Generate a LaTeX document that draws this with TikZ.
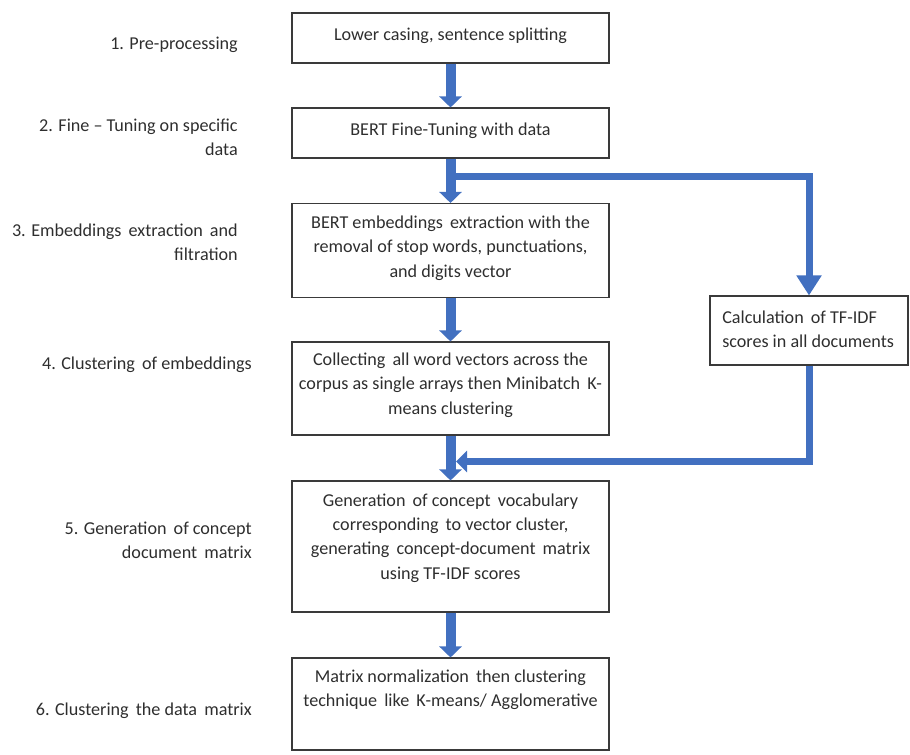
\documentclass[tikz,border=0pt]{standalone}
\usepackage{fontspec}
\setmainfont{Carlito}
\usetikzlibrary{arrows.meta}
\definecolor{arrowblue}{HTML}{4270C0}
\definecolor{boxline}{HTML}{3A3A3A}
\definecolor{txtcol}{HTML}{2E2E2E}
\begin{document}
\begin{tikzpicture}[x=0.75pt,y=-0.75pt,
  box/.style={draw=boxline, line width=0.8pt, rectangle, inner sep=0pt, minimum width=237.75pt},
  boxtext/.style={text=txtcol, align=center, inner sep=0pt, font=\fontsize{13.6}{18.2}\selectfont},
  steplabel/.style={text=txtcol, align=right, inner sep=0pt, anchor=east, font=\fontsize{13.6}{18.2}\selectfont},
  mainarrow/.style={draw=arrowblue, line width=7.5pt, -{Triangle[width=16.5pt,length=8.25pt]}},
  sidearrow/.style={draw=arrowblue, line width=5.25pt, line join=miter},
]
\useasboundingbox (0,0) rectangle (910,755);

% boxes
\node[box, minimum height=37.5pt] (b1) at (450.5,38) {};
\node[box, minimum height=37.5pt] (b2) at (450.5,133) {};
\node[box, minimum height=70.5pt] (b3) at (450.5,250.5) {};
\node[box, minimum height=69.75pt] (b4) at (450.5,388.5) {};
\node[box, minimum height=98.25pt] (b5) at (450.5,546.5) {};
\node[box, minimum height=69pt] (b6) at (450.5,704) {};
\node[box, minimum width=148.5pt, minimum height=51.75pt] (r) at (809,330.5) {};

% box texts
\node[boxtext] (t1) at (450.5,36) {Lower casing, sentence splitting};
\node[boxtext] (t2) at (450.5,131) {BERT Fine-Tuning with data};
\node[boxtext] (t3) at (450.5,248) {BERT embeddings\, extraction with the\\removal of stop words, punctuations,\\and digits vector};
\node[boxtext] (t4) at (450.5,385) {Collecting\, all word vectors across the\\corpus as single arrays then Minibatch\, K-\\means clustering};
\node[boxtext] (t5) at (450.5,538) {Generation\, of concept\, vocabulary\\corresponding\, to vector cluster,\\generating\, concept-document\, matrix\\using TF-IDF scores};
\node[boxtext] (t6) at (450.5,690) {Matrix normalization\, then clustering\\technique\, like\, K-means/ Agglomerative};
\node[boxtext, align=left, anchor=west] (tr) at (722,329.5) {Calculation\, of TF-IDF\\scores in all documents};

% step labels
\node[steplabel] (l1) at (238,45) {1. Pre-processing};
\node[steplabel] (l2) at (238,137) {2. Fine -- Tuning on specific\\data};
\node[steplabel] (l3) at (238,242) {3. Embeddings\, extraction\, and\\filtration};
\node[steplabel] (l4) at (252,365) {4. Clustering\, of embeddings};
\node[steplabel] (l5) at (252,540.5) {5. Generation\, of concept\\document\, matrix};
\node[steplabel] (l6) at (252,711) {6. Clustering\, the data\, matrix};

% connectors
\coordinate (br) at (451,176.5);
\coordinate (mj) at (456,461.5);
\draw[sidearrow, -{Triangle[width=18pt,length=15pt]}] (br) -| (r.north);
\draw[sidearrow, -{Triangle[width=15.75pt,length=8.25pt]}] (r.south) |- (mj);
\draw[mainarrow] (b1.south) -- (b2.north);
\draw[mainarrow] (b2.south) -- (b3.north);
\draw[mainarrow] (b3.south) -- (b4.north);
\draw[mainarrow] (b4.south) -- (b5.north);
\draw[mainarrow] (b5.south) -- (b6.north);
\end{tikzpicture}
\end{document}
